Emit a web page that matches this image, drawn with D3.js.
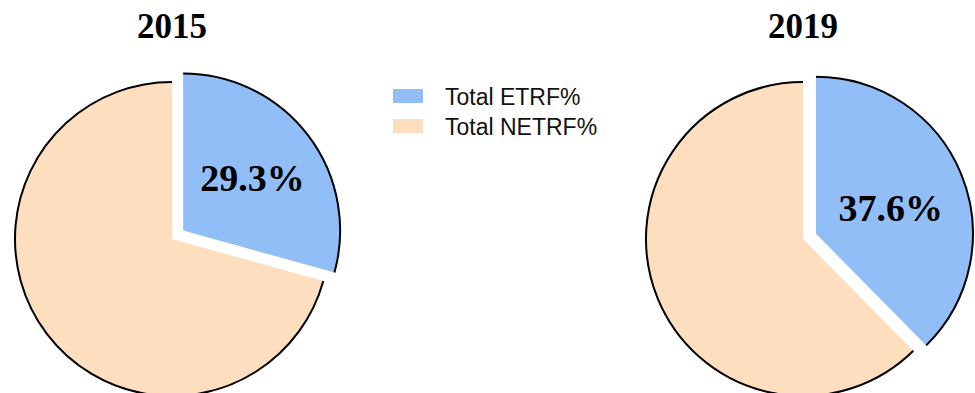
<!DOCTYPE html>
<html>
<head>
<meta charset="utf-8">
<script src="https://cdn.jsdelivr.net/npm/d3@7"></script>
<style>
  body { margin: 0; background: #fff; }
  svg { display: block; }
</style>
</head>
<body>
<svg id="chart" width="975" height="393"></svg>
<script>
// data
const years = ['2015', '2019'];
const categories = ['Total ETRF%', 'Total NETRF%'];
const etrf = [29.3, 37.6];
const netrf = [70.7, 62.4];

const colors = ['#92bef7', '#fddfc0'];

const svg = d3.select('#chart');
const radius = 157;
const explode = 14;
const centers = [[172, 239], [803, 239]];
const labelRadius = [101, 93];

const pie = d3.pie().sort(null).value((d) => d.value);
const arc = d3.arc().innerRadius(0).outerRadius(radius);

years.forEach((year, i) => {
  const data = categories.map((c, k) => ({
    name: c,
    value: k === 0 ? etrf[i] : netrf[i],
  }));
  const arcs = pie(data);

  const g = svg
    .append('g')
    .attr('transform', 'translate(' + centers[i][0] + ',' + centers[i][1] + ')');

  // Title
  g.append('text')
    .attr('x', 0)
    .attr('y', 38 - centers[i][1])
    .attr('text-anchor', 'middle')
    .attr('font-family', '"Liberation Serif", "Times New Roman", serif')
    .attr('font-weight', 'bold')
    .attr('font-size', 35)
    .text(year);

  const slice = g
    .selectAll('g.slice')
    .data(arcs)
    .join('g')
    .attr('class', 'slice')
    .attr('transform', (d, k) => {
      if (k !== 0) return null;
      const mid = (d.startAngle + d.endAngle) / 2;
      return 'translate(' + explode * Math.sin(mid) + ',' + -explode * Math.cos(mid) + ')';
    });

  slice
    .append('path')
    .attr('d', arc)
    .attr('fill', (d, k) => colors[k]);

  // Outline only on the outer edge
  slice
    .append('path')
    .attr('d', (d) => {
      const p = d3.path();
      p.arc(0, 0, radius, d.startAngle - Math.PI / 2, d.endAngle - Math.PI / 2);
      return p.toString();
    })
    .attr('fill', 'none')
    .attr('stroke', '#000')
    .attr('stroke-width', 2);

  // Percentage label on ETRF slice
  const d0 = arcs[0];
  const mid = (d0.startAngle + d0.endAngle) / 2 + (i === 1 ? 0.05 : 0);
  g.append('text')
    .attr('x', labelRadius[i] * Math.sin(mid))
    .attr('y', -labelRadius[i] * Math.cos(mid))
    .attr('dy', '0.35em')
    .attr('text-anchor', 'middle')
    .attr('font-family', '"Liberation Serif", "Times New Roman", serif')
    .attr('font-weight', 'bold')
    .attr('font-size', 38)
    .text(etrf[i].toFixed(1) + '%');
});

// Legend
const legend = svg
  .append('g')
  .attr('transform', 'translate(393,89)');

const item = legend
  .selectAll('g')
  .data(categories)
  .join('g')
  .attr('transform', (d, k) => 'translate(0,' + k * 30 + ')');

item
  .append('rect')
  .attr('width', 30)
  .attr('height', 14)
  .attr('fill', (d, k) => colors[k]);

item
  .append('text')
  .attr('x', 52)
  .attr('y', 16)
  .attr('font-family', '"Liberation Sans", Arial, sans-serif')
  .attr('font-size', 23)
  .attr('fill', '#111')
  .text((d) => d);
</script>
</body>
</html>
